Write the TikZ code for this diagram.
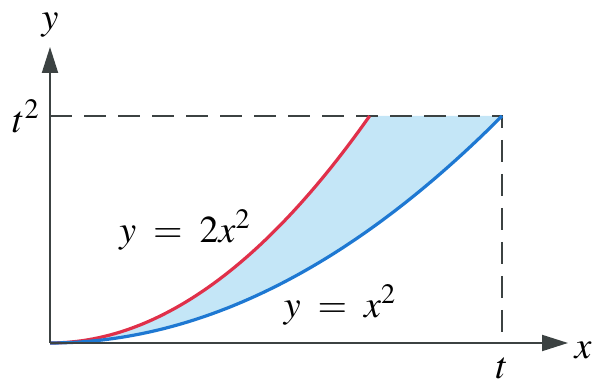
\documentclass[tikz,border=0pt]{standalone}
\usepackage{mathptmx}
\usetikzlibrary{arrows.meta,positioning}
\definecolor{Ink}{HTML}{3C4242}
\definecolor{RedCurve}{HTML}{E0304A}
\definecolor{BlueCurve}{HTML}{1E78D2}
\definecolor{Sky}{HTML}{C4E6F7}
\tikzset{
  axis/.style={-{Triangle[length=13pt,width=8pt]}, line width=1pt, draw=Ink},
  guide/.style={line width=1pt, draw=Ink, dash pattern=on 11pt off 6pt},
  curve/.style={line width=1.6pt},
  lbl/.style={inner sep=1pt, font=\fontsize{19}{22}\selectfont}
}

\begin{document}
\begin{tikzpicture}[x=0.5pt,y=0.5pt]
    \useasboundingbox (-50,-40) rectangle (545,343);
    \coordinate (O) at (0,0);
    \coordinate (xend) at (518,0);
    \coordinate (yend) at (0,296);
    \coordinate (tT) at (452,227);
    \coordinate (tx) at (452,0);
    \coordinate (Ty) at (0,227);
    \coordinate (rT) at (319.6,227);

    % region between the two parabolas
    \fill[Sky] (O) -- plot[domain=0:452,samples=60] (\x,{227*(\x/452)^2})
      -- (rT) -- plot[domain=319.6:0,samples=60] (\x,{454*(\x/452)^2}) -- cycle;

    \draw[guide] (Ty) -- (tT) -- (tx);
    \draw[curve,draw=RedCurve] plot[domain=0:319.6,samples=60]
      (\x,{454*(\x/452)^2});
    \draw[curve,draw=BlueCurve] plot[domain=0:452,samples=60]
      (\x,{227*(\x/452)^2});
    \draw[axis] (O) -- (xend);
    \draw[axis] (O) -- (yend);

    \node[lbl] (ylab) at (0,318) {$y$};
    \node[lbl] (xlab) at (533,-7) {$x$};
    \node[lbl] (tlab) at (452,-25) {$t$};
    \node[lbl,left=4pt of Ty] (Tlab) {$t^2$};
    \node[lbl] (redlab) at (135,113) {$y\;=\;2x^2$};
    \node[lbl] (bluelab) at (290,38) {$y\;=\;x^2$};
  \end{tikzpicture}
\end{document}
